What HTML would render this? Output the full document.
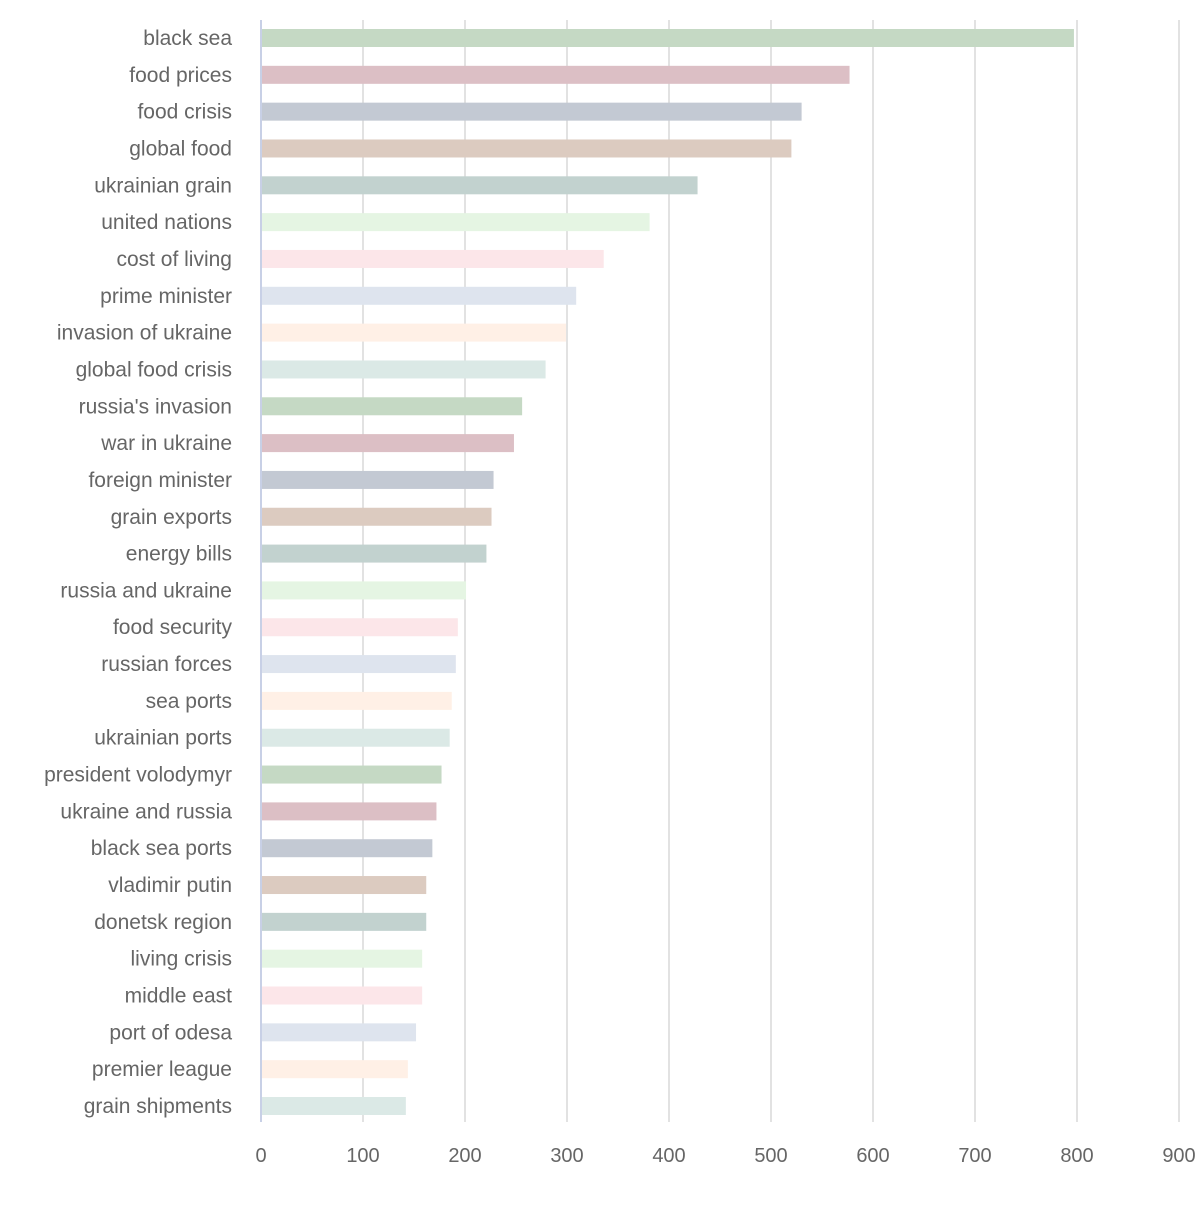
<!DOCTYPE html>
<html><head><meta charset="utf-8"><style>
body{margin:0;background:#fff;}
svg text{font-family:"Liberation Sans","DejaVu Sans",sans-serif;fill:#666;}
</style></head><body>
<svg id="chart" width="1200" height="1200" xmlns="http://www.w3.org/2000/svg"></svg>
<script>
const categories=["black sea","food prices","food crisis","global food","ukrainian grain","united nations","cost of living","prime minister","invasion of ukraine","global food crisis","russia's invasion","war in ukraine","foreign minister","grain exports","energy bills","russia and ukraine","food security","russian forces","sea ports","ukrainian ports","president volodymyr","ukraine and russia","black sea ports","vladimir putin","donetsk region","living crisis","middle east","port of odesa","premier league","grain shipments"];
const values=[797,577,530,520,428,381,336,309,299,279,256,248,228,226,221,201,193,191,187,185,177,172,168,162,162,158,158,152,144,142];
const tickValues=[0,100,200,300,400,500,600,700,800,900];
const palette=["#c5d9c4","#dcbfc5","#c3c9d3","#dccbc0","#c2d2cf","#e5f5e3","#fce6e9","#dee4ee","#fff0e6","#dbe9e6"];
const svg=document.getElementById('chart');
const NS="http://www.w3.org/2000/svg";
const x0=261, pxPer=1.02, yTop=38, step=(1106-38)/29, barH=18;
const xs=v=>x0+v*pxPer;
const ys=i=>yTop+i*step;
function mk(t,a){const e=document.createElementNS(NS,t);for(const k in a)e.setAttribute(k,a[k]);svg.appendChild(e);return e;}
tickValues.forEach(t=>{
  if(t>0){const g=mk('line',{x1:xs(t),x2:xs(t),y1:20,y2:1122,stroke:'#e2e2e2','stroke-width':2});
  
  }
  const l=mk('text',{x:xs(t),y:1162,'text-anchor':'middle','font-size':20});
  l.textContent=t;
  
  
});
categories.forEach((c,i)=>{
  const r=mk('rect',{x:x0,y:ys(i)-barH/2,width:values[i]*pxPer,height:barH,fill:palette[i%10]});
  
  
  const t=mk('text',{x:232,y:ys(i)+7,'text-anchor':'end','font-size':21});
  t.textContent=c;
  
  
});
const ax=mk('line',{x1:x0,x2:x0,y1:20,y2:1122,stroke:'#c8d0e6','stroke-width':2});


</script>
</body></html>
